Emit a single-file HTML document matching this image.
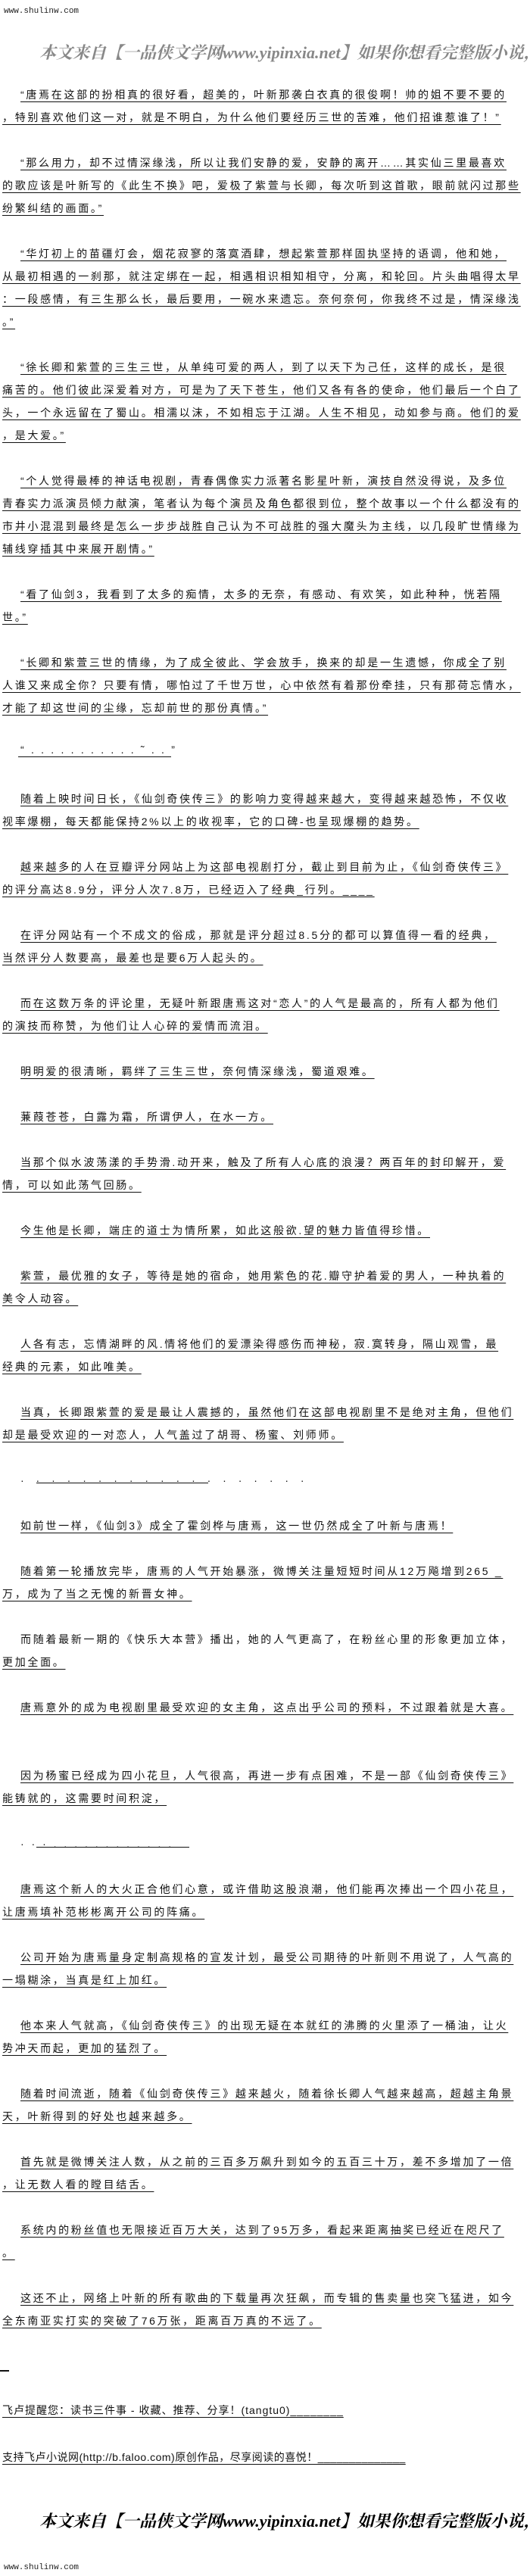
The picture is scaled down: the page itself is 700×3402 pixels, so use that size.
<!DOCTYPE html>
<html><head><meta charset="utf-8">
<style>
html,body{margin:0;padding:0;background:#fff;}
body{width:700px;height:3402px;position:relative;overflow:hidden;}
.l{position:absolute;left:3px;height:30px;line-height:30px;white-space:nowrap;
 font-family:"Liberation Sans","Noto Sans CJK SC",sans-serif;font-size:14px;letter-spacing:2.7px;color:#111;
 text-decoration:underline;text-underline-offset:4px;}
.i{left:27px;}
.wm{position:absolute;left:5px;font-family:"Liberation Mono",monospace;font-size:11px;color:#222;line-height:14px;}
.hw{position:absolute;left:52px;width:648px;height:34px;overflow:hidden;}
.hd{white-space:nowrap;font-family:"Liberation Serif","Noto Serif CJK SC",serif;font-size:22px;font-weight:bold;font-style:italic;line-height:34px;}
.ul{position:absolute;height:1px;background:#111;}
</style></head><body>
<div class="wm" style="top:8px">www.shulinw.com</div>
<div class="hw" style="top:53px"><div class="hd" style="color:#888">本文来自【一品侠文学网www.yipinxia.net】如果你想看完整版小说，请</div></div>

<div class="l i" style="top:110px">“唐焉在这部的扮相真的很好看，超美的，叶新那袭白衣真的很俊啊！帅的姐不要不要的</div>
<div class="l" style="top:140px">，特别喜欢他们这一对，就是不明白，为什么他们要经历三世的苦难，他们招谁惹谁了！”</div>
<div class="l i" style="top:200px">“那么用力，却不过情深缘浅，所以让我们安静的爱，安静的离开……其实仙三里最喜欢</div>
<div class="l" style="top:230px">的歌应该是叶新写的《此生不换》吧，爱极了紫萱与长卿，每次听到这首歌，眼前就闪过那些</div>
<div class="l" style="top:260px">纷繁纠结的画面。”</div>
<div class="l i" style="top:320px">“华灯初上的苗疆灯会，烟花寂寥的落寞酒肆，想起紫萱那样固执坚持的语调，他和她，</div>
<div class="l" style="top:350px">从最初相遇的一刹那，就注定绑在一起，相遇相识相知相守，分离，和轮回。片头曲唱得太早</div>
<div class="l" style="top:380px">：一段感情，有三生那么长，最后要用，一碗水来遗忘。奈何奈何，你我终不过是，情深缘浅</div>
<div class="l" style="top:410px">。”</div>
<div class="l i" style="top:470px">“徐长卿和紫萱的三生三世，从单纯可爱的两人，到了以天下为己任，这样的成长，是很</div>
<div class="l" style="top:500px">痛苦的。他们彼此深爱着对方，可是为了天下苍生，他们又各有各的使命，他们最后一个白了</div>
<div class="l" style="top:530px">头，一个永远留在了蜀山。相濡以沫，不如相忘于江湖。人生不相见，动如参与商。他们的爱</div>
<div class="l" style="top:560px">，是大爱。”</div>
<div class="l i" style="top:620px">“个人觉得最棒的神话电视剧，青春偶像实力派著名影星叶新，演技自然没得说，及多位</div>
<div class="l" style="top:650px">青春实力派演员倾力献演，笔者认为每个演员及角色都很到位，整个故事以一个什么都没有的</div>
<div class="l" style="top:680px">市井小混混到最终是怎么一步步战胜自己认为不可战胜的强大魔头为主线，以几段旷世情缘为</div>
<div class="l" style="top:710px">辅线穿插其中来展开剧情。”</div>
<div class="l i" style="top:770px">“看了仙剑3，我看到了太多的痴情，太多的无奈，有感动、有欢笑，如此种种，恍若隔</div>
<div class="l" style="top:800px">世。”</div>
<div class="l i" style="top:860px">“长卿和紫萱三世的情缘，为了成全彼此、学会放手，换来的却是一生遗憾，你成全了别</div>
<div class="l" style="top:890px">人谁又来成全你？只要有情，哪怕过了千世万世，心中依然有着那份牵挂，只有那荷忘情水，</div>
<div class="l" style="top:920px">才能了却这世间的尘缘，忘却前世的那份真情。”</div>
<div class="l i" style="top:975px;text-decoration:none">“ . . . . . . . . . . . ˜ . . ”</div>
<div class="ul" style="left:24px;top:999px;width:202px"></div>
<div class="l i" style="top:1040px">随着上映时间日长，《仙剑奇侠传三》的影响力变得越来越大，变得越来越恐怖，不仅收</div>
<div class="l" style="top:1070px">视率爆棚，每天都能保持2%以上的收视率，它的口碑-也呈现爆棚的趋势。</div>
<div class="l i" style="top:1130px">越来越多的人在豆瓣评分网站上为这部电视剧打分，截止到目前为止，《仙剑奇侠传三》</div>
<div class="l" style="top:1160px">的评分高达8.9分，评分人次7.8万，已经迈入了经典_行列。____</div>
<div class="l i" style="top:1220px">在评分网站有一个不成文的俗成，那就是评分超过8.5分的都可以算值得一看的经典，</div>
<div class="l" style="top:1250px">当然评分人数要高，最差也是要6万人起头的。</div>
<div class="l i" style="top:1310px">而在这数万条的评论里，无疑叶新跟唐焉这对“恋人”的人气是最高的，所有人都为他们</div>
<div class="l" style="top:1340px">的演技而称赞，为他们让人心碎的爱情而流泪。</div>
<div class="l i" style="top:1400px">明明爱的很清晰，羁绊了三生三世，奈何情深缘浅，蜀道艰难。</div>
<div class="l i" style="top:1460px">蒹葭苍苍，白露为霜，所谓伊人，在水一方。</div>
<div class="l i" style="top:1520px">当那个似水波荡漾的手势滑.动开来，触及了所有人心底的浪漫？两百年的封印解开，爱</div>
<div class="l" style="top:1550px">情，可以如此荡气回肠。</div>
<div class="l i" style="top:1610px">今生他是长卿，端庄的道士为情所累，如此这般欲.望的魅力皆值得珍惜。</div>
<div class="l i" style="top:1670px">紫萱，最优雅的女子，等待是她的宿命，她用紫色的花.瓣守护着爱的男人，一种执着的</div>
<div class="l" style="top:1700px">美令人动容。</div>
<div class="l i" style="top:1760px">人各有志，忘情湖畔的风.情将他们的爱漂染得感伤而神秘，寂.寞转身，隔山观雪，最</div>
<div class="l" style="top:1790px">经典的元素，如此唯美。</div>
<div class="l i" style="top:1850px">当真，长卿跟紫萱的爱是最让人震撼的，虽然他们在这部电视剧里不是绝对主角，但他们</div>
<div class="l" style="top:1880px">却是最受欢迎的一对恋人，人气盖过了胡哥、杨蜜、刘师师。</div>
<div class="l i" style="top:1940px;text-decoration:none;letter-spacing:6px">· · · · · · · · · · · · · · · · · · ·</div>
<div class="ul" style="left:48px;top:1958px;width:227px"></div>
<div class="l i" style="top:2000px">如前世一样，《仙剑3》成全了霍剑桦与唐焉，这一世仍然成全了叶新与唐焉！</div>
<div class="l i" style="top:2060px">随着第一轮播放完毕，唐焉的人气开始暴涨，微博关注量短短时间从12万飚增到265 _</div>
<div class="l" style="top:2090px">万，成为了当之无愧的新晋女神。</div>
<div class="l i" style="top:2150px;text-decoration:none">而随着最新一期的《快乐大本营》播出，她的人气更高了，在粉丝心里的形象更加立体，</div>
<div class="l" style="top:2180px">更加全面。</div>
<div class="l i" style="top:2240px">唐焉意外的成为电视剧里最受欢迎的女主角，这点出乎公司的预料，不过跟着就是大喜。</div>
<div class="l i" style="top:2330px">因为杨蜜已经成为四小花旦，人气很高，再进一步有点困难，不是一部《仙剑奇侠传三》</div>
<div class="l" style="top:2360px">能铸就的，这需要时间积淀，</div>
<div class="l i" style="top:2420px;text-decoration:none;letter-spacing:3px">· · ·  . . . . . . . . .  . . .</div>
<div class="ul" style="left:48px;top:2439px;width:202px"></div>
<div class="l i" style="top:2480px">唐焉这个新人的大火正合他们心意，或许借助这股浪潮，他们能再次捧出一个四小花旦，</div>
<div class="l" style="top:2510px">让唐焉填补范彬彬离开公司的阵痛。</div>
<div class="l i" style="top:2570px">公司开始为唐焉量身定制高规格的宣发计划，最受公司期待的叶新则不用说了，人气高的</div>
<div class="l" style="top:2600px">一塌糊涂，当真是红上加红。</div>
<div class="l i" style="top:2660px">他本来人气就高，《仙剑奇侠传三》的出现无疑在本就红的沸腾的火里添了一桶油，让火</div>
<div class="l" style="top:2690px">势冲天而起，更加的猛烈了。</div>
<div class="l i" style="top:2750px">随着时间流逝，随着《仙剑奇侠传三》越来越火，随着徐长卿人气越来越高，超越主角景</div>
<div class="l" style="top:2780px">天，叶新得到的好处也越来越多。</div>
<div class="l i" style="top:2840px">首先就是微博关注人数，从之前的三百多万飙升到如今的五百三十万，差不多增加了一倍</div>
<div class="l" style="top:2870px">，让无数人看的瞠目结舌。</div>
<div class="l i" style="top:2930px">系统内的粉丝值也无限接近百万大关，达到了95万多，看起来距离抽奖已经近在咫尺了</div>
<div class="l" style="top:2960px">。</div>
<div class="l i" style="top:3020px">这还不止，网络上叶新的所有歌曲的下载量再次狂飙，而专辑的售卖量也突飞猛进，如今</div>
<div class="l" style="top:3050px">全东南亚实打实的突破了76万张，距离百万真的不远了。</div>
<div class="ul" style="left:0px;top:3130px;width:12px;height:2px"></div>
<div class="l" style="top:3168px;letter-spacing:1px">飞卢提醒您：读书三件事 - 收藏、推荐、分享！(tangtu0)________</div>
<div class="l" style="top:3230px;letter-spacing:0.5px">支持飞卢小说网(http://b.faloo.com)原创作品，尽享阅读的喜悦！______________</div>
<div class="hw" style="top:3313px"><div class="hd" style="color:#000">本文来自【一品侠文学网www.yipinxia.net】如果你想看完整版小说，请</div></div>
<div class="wm" style="top:3384px">www.shulinw.com</div>
</body></html>
